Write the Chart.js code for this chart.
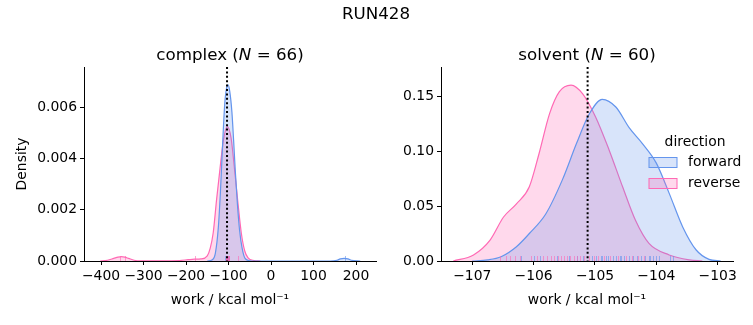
<!DOCTYPE html>
<html>
<head>
<meta charset="utf-8">
<script src="https://cdn.jsdelivr.net/npm/chart.js@4.4.1/dist/chart.umd.min.js"></script>
<style>
  body { margin: 0; background: #fff; }
  #wrap { position: relative; width: 753px; height: 325px; overflow: hidden; font-family: "DejaVu Sans", sans-serif; }
  canvas { position: absolute; top: 0; }
  .ttl { position: absolute; transform: translate(-50%, -50%); white-space: nowrap; color: #000; font-size: 16.7px; z-index: 2; }
</style>
</head>
<body>
<div id="wrap">
  <div class="ttl" style="left:376px;top:13px">RUN428</div>
  <div class="ttl" style="left:230px;top:54px">complex (<i>N</i> = 66)</div>
  <div class="ttl" style="left:587px;top:54px">solvent (<i>N</i> = 60)</div>
  <canvas id="complexChart" width="380" height="325" style="left:0"></canvas>
  <canvas id="solventChart" width="373" height="325" style="left:380px"></canvas>
</div>
<script>
// kde curves (work in kcal/mol, density)
const complexFwdX = [-150, -138, -131, -124, -119, -114, -109, -105, -101, -97, -92, -88, -84, -79, -74, -68, -61, -50, -40, 140, 155, 163, 172, 181, 189, 210];
const complexFwdY = [0, 0.00005, 0.0003, 0.0013, 0.0027, 0.0045, 0.0061, 0.0067, 0.00686, 0.0066, 0.0058, 0.0047, 0.0035, 0.0022, 0.0012, 0.0005, 0.0001, 0.00001, 0, 0, 0.00003, 0.00008, 0.0001, 0.00008, 0.00003, 0];
const complexRevX = [-402, -385, -370, -360, -352, -344, -335, -322, -305, -260, -215, -195, -180, -165, -150, -143, -136, -128, -120, -112, -103, -94, -86, -78, -70, -62, -54, -40, -25];
const complexRevY = [0, 0.00003, 0.0001, 0.00015, 0.00017, 0.00015, 0.0001, 0.00003, 0.00001, 0.00001, 0.00002, 0.00005, 0.00007, 0.00008, 0.0002, 0.0005, 0.0011, 0.0024, 0.0036, 0.0047, 0.00524, 0.0048, 0.0036, 0.0023, 0.0011, 0.0004, 0.00012, 0.00002, 0];

const solventFwdX = [-107.0, -106.75, -106.53, -106.28, -106.07, -105.8, -105.53, -105.3, -105.1, -104.88, -104.66, -104.44, -104.23, -104.0, -103.79, -103.57, -103.35, -103.14, -102.95];
const solventFwdY = [0, 0.001, 0.0039, 0.013, 0.025, 0.043, 0.074, 0.107, 0.133, 0.147, 0.140, 0.121, 0.107, 0.089, 0.0615, 0.031, 0.010, 0.0015, 0];
const solventRevX = [-107.31, -106.98, -106.71, -106.49, -106.28, -106.07, -105.91, -105.74, -105.58, -105.39, -105.2, -104.99, -104.77, -104.55, -104.34, -104.12, -103.79, -103.46, -103.25];
const solventRevY = [0, 0.0055, 0.019, 0.040, 0.052, 0.0675, 0.098, 0.134, 0.154, 0.160, 0.152, 0.131, 0.101, 0.0675, 0.037, 0.016, 0.0055, 0.001, 0];

// rug marks (individual work values)
const complexFwdRug = [-108, -106, -105, -104, -103.5, -103, -102, -101, -100.5, -100, -99, 174];
const complexRevRug = [-355, -343, -179, -107, -106, -105, -104, -103, -102, -101, -100, -99, -78];
const solventFwdRug = [-106.2, -106.0, -105.9, -105.62, -105.42, -105.3, -105.2, -105.05, -104.98, -104.9, -104.88, -104.82, -104.78, -104.7, -104.65, -104.6, -104.58, -104.52, -104.45, -104.38, -104.32, -104.25, -104.18, -104.12, -104.1, -104.05, -104.0, -103.95, -103.78, -103.72];
const solventRevRug = [-106.55, -106.45, -106.38, -106.3, -106.22, -106.05, -105.95, -105.85, -105.78, -105.72, -105.66, -105.6, -105.55, -105.5, -105.45, -105.4, -105.35, -105.3, -105.25, -105.18, -105.1, -105.02, -104.95, -104.85, -104.75, -104.62, -104.5, -104.4, -104.3, -104.2];

// mean work (dotted line)
const complexRef = -103.5;
const solventRef = -105.12;

const complexXTicks = [-400, -300, -200, -100, 0, 100, 200];
const complexYTicks = [0, 0.002, 0.004, 0.006];
const solventXTicks = [-107, -106, -105, -104, -103];
const solventYTicks = [0, 0.05, 0.10, 0.15];

const directions = ["forward", "reverse"];

const BLUE = "#6495ED";
const PINK = "#FF69B4";
const BLUE_FILL = "rgba(100,149,237,0.25)";
const PINK_FILL = "rgba(255,105,180,0.25)";

Chart.defaults.font.family = "'DejaVu Sans', sans-serif";
Chart.defaults.font.size = 13.9;
Chart.defaults.color = "#000";

const zip = (xs, ys) => xs.map((x, i) => ({ x: x, y: ys[i] }));
const minus = (s) => String(s).replace("-", "\u2212");

// rug ticks + dotted mean line
const overlayPlugin = {
  id: "overlay",
  afterDatasetsDraw(chart, args, o) {
    const { ctx, chartArea: a } = chart;
    const x = chart.scales.x;
    ctx.save();
    o.rugs.forEach((r) => {
      ctx.strokeStyle = r.color;
      ctx.lineWidth = 1;
      r.values.forEach((v) => {
        const px = Math.round(x.getPixelForValue(v)) + 0.5;
        ctx.beginPath();
        ctx.moveTo(px, a.bottom);
        ctx.lineTo(px, a.bottom - 5);
        ctx.stroke();
      });
    });
    const rx = x.getPixelForValue(o.ref);
    ctx.strokeStyle = "#000";
    ctx.lineWidth = 2;
    ctx.setLineDash([2, 2.4]);
    ctx.beginPath();
    ctx.moveTo(rx, a.top);
    ctx.lineTo(rx, a.bottom);
    ctx.stroke();
    ctx.restore();
  },
};

// seaborn style legend without a frame
const legendPlugin = {
  id: "dirLegend",
  afterDraw(chart, args, o) {
    if (!o.show) return;
    const ctx = chart.ctx;
    const a = chart.chartArea;
    const left = a.right - 84;
    ctx.save();
    ctx.font = "13.9px 'DejaVu Sans', sans-serif";
    ctx.fillStyle = "#000";
    ctx.textBaseline = "middle";
    ctx.textAlign = "center";
    ctx.fillText("direction", left + 46, 142);
    const cols = [[BLUE_FILL, BLUE], [PINK_FILL, PINK]];
    directions.forEach((d, i) => {
      const y = 157.5 + i * 21;
      ctx.fillStyle = cols[i][0];
      ctx.fillRect(left, y, 28, 10);
      ctx.strokeStyle = cols[i][1];
      ctx.lineWidth = 1;
      ctx.strokeRect(left, y, 28, 10);
      ctx.fillStyle = "#000";
      ctx.textAlign = "left";
      ctx.fillText(d, left + 39, y + 5);
    });
    ctx.restore();
  },
};

function makeChart(id, c) {
  return new Chart(document.getElementById(id), {
    type: "scatter",
    data: {
      datasets: [
        {
          label: directions[0],
          data: zip(c.fx, c.fy),
          showLine: true,
          borderColor: BLUE,
          backgroundColor: BLUE_FILL,
          borderWidth: 1.2,
          pointRadius: 0,
          fill: "origin",
          cubicInterpolationMode: "monotone",
        },
        {
          label: directions[1],
          data: zip(c.rx, c.ry),
          showLine: true,
          borderColor: PINK,
          backgroundColor: PINK_FILL,
          borderWidth: 1.2,
          pointRadius: 0,
          fill: "origin",
          cubicInterpolationMode: "monotone",
        },
      ],
    },
    options: {
      responsive: false,
      animation: false,
      layout: { padding: c.pad },
      plugins: {
        legend: { display: false },
        tooltip: { enabled: false },
        overlay: { rugs: [{ values: c.fRug, color: "rgba(100,149,237,0.6)" }, { values: c.rRug, color: "rgba(255,105,180,0.6)" }], ref: c.ref },
        dirLegend: { show: c.legend },
      },
      scales: {
        x: {
          type: "linear",
          min: c.xMin,
          max: c.xMax,
          afterFit: (s) => { s.height = 64; },
          afterBuildTicks: (s) => { s.ticks = c.xTicks.map((v) => ({ value: v })); },
          ticks: { padding: 3, maxRotation: 0, callback: (v) => minus(v) },
          grid: { drawOnChartArea: false, drawTicks: true, tickLength: 4, color: "#000", lineWidth: 1 },
          border: { display: true, color: "#000", width: 1 },
          title: { display: true, text: "work / kcal mol\u207B\u00B9", padding: { top: 0, bottom: 16 } },
        },
        y: {
          min: 0,
          max: c.yMax,
          afterFit: (s) => { s.width = c.yWidth; },
          afterBuildTicks: (s) => { s.ticks = c.yTicks.map((v) => ({ value: v })); },
          ticks: { padding: 3, callback: (v) => v.toFixed(c.dec) },
          grid: { drawOnChartArea: false, drawTicks: true, tickLength: 4, color: "#000", lineWidth: 1 },
          border: { display: true, color: "#000", width: 1 },
          title: { display: c.yTitle, text: "Density", padding: { top: 14, bottom: 0 } },
        },
      },
    },
    plugins: [overlayPlugin, legendPlugin],
  });
}

makeChart("complexChart", {
  fx: complexFwdX, fy: complexFwdY, rx: complexRevX, ry: complexRevY,
  fRug: complexFwdRug, rRug: complexRevRug, ref: complexRef,
  xMin: -440, xMax: 247, yMax: 0.00756,
  xTicks: complexXTicks, yTicks: complexYTicks, dec: 3,
  yWidth: 84, yTitle: true, legend: false,
  pad: { left: 0, top: 67, right: 4, bottom: 0 },
});

makeChart("solventChart", {
  fx: solventFwdX, fy: solventFwdY, rx: solventRevX, ry: solventRevY,
  fRug: solventFwdRug, rRug: solventRevRug, ref: solventRef,
  xMin: -107.51, xMax: -102.75, yMax: 0.1764,
  xTicks: solventXTicks, yTicks: solventYTicks, dec: 2,
  yWidth: 61, yTitle: false, legend: true,
  pad: { left: 0, top: 67, right: 20, bottom: 0 },
});
</script>
</body>
</html>
